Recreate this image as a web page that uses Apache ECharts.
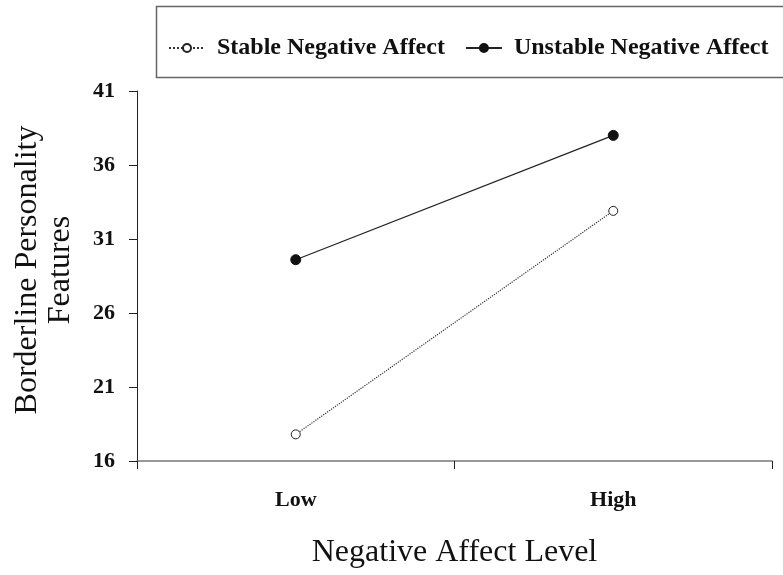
<!DOCTYPE html>
<html>
<head>
<meta charset="utf-8">
<script src="https://cdn.jsdelivr.net/npm/echarts@6/dist/echarts.min.js"></script>
<style>html,body{margin:0;padding:0;background:#fff;}#c{width:783px;height:575px;}</style>
</head>
<body>
<div id="c"></div>
<script>
var categories = ['Low', 'High'];
var stableValues = [17.8, 32.9];
var unstableValues = [29.6, 38.0];
var seriesNames = ['Stable Negative Affect', 'Unstable Negative Affect'];
var yMin = 16, yMax = 41, yStep = 5;
var xTitle = 'Negative Affect Level';
var yTitle = 'Borderline Personality\nFeatures';

var serif = '"Liberation Serif", "Times New Roman", serif';
var chart = echarts.init(document.getElementById('c'), null, {renderer: 'canvas'});
chart.setOption({
  animation: false,
  backgroundColor: '#fff',
  graphic: [{
    type: 'rect', left: 154, top: 4, silent: true,
    shape: {x: 0, y: 0, width: 700, height: 71},
    style: {fill: 'none', stroke: '#666', lineWidth: 1.5}
  }],
  legend: {
    left: 163, top: 31,
    itemWidth: 36, itemHeight: 10, itemGap: 20,
    data: seriesNames,
    textStyle: {fontFamily: serif, fontWeight: 'bold', fontSize: 24, color: '#111', padding: [0, 0, 0, 7]}
  },
  grid: {left: 137, right: 11, top: 91, bottom: 114, containLabel: false},
  xAxis: {
    type: 'category', data: categories, boundaryGap: true,
    name: xTitle, nameLocation: 'middle', nameGap: 76,
    nameTextStyle: {fontFamily: serif, fontSize: 32, color: '#111'},
    axisLine: {lineStyle: {color: '#777', width: 1.5}},
    axisTick: {show: true, length: 8, lineStyle: {color: '#222', width: 1}},
    axisLabel: {fontFamily: serif, fontWeight: 'bold', fontSize: 22, color: '#111', margin: 28}
  },
  yAxis: {
    type: 'value', min: yMin, max: yMax, interval: yStep,
    name: yTitle, nameLocation: 'middle', nameGap: 60,
    nameTextStyle: {fontFamily: serif, fontSize: 32, color: '#111', lineHeight: 33, padding: [0, 0, 0, 12]},
    axisLine: {show: true, lineStyle: {color: '#222', width: 1}},
    axisTick: {show: true, length: 8, lineStyle: {color: '#222'}},
    splitLine: {show: false},
    axisLabel: {fontFamily: serif, fontWeight: 'bold', fontSize: 22, color: '#111', margin: 22}
  },
  series: [{
    name: seriesNames[0], type: 'line', data: stableValues,
    symbol: 'circle', symbolSize: 9,
    lineStyle: {type: 'dotted', color: '#333', width: 1.2},
    itemStyle: {color: '#fff', borderColor: '#222', borderWidth: 1}
  }, {
    name: seriesNames[1], type: 'line', data: unstableValues,
    symbol: 'circle', symbolSize: 10,
    lineStyle: {type: 'solid', color: '#222', width: 1.2},
    itemStyle: {color: '#111', borderColor: '#111', borderWidth: 1}
  }]
});
</script>
</body>
</html>
